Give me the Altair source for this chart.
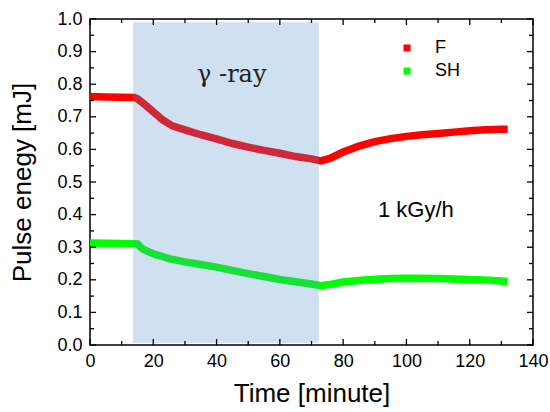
import altair as alt
import pandas as pd

# Pulse energy of fundamental (F) and second harmonic (SH) under gamma irradiation
time_f = [0, 5, 10, 14, 15, 17, 20, 23, 26, 30, 35, 40, 45, 50, 55, 60, 65, 70, 73,
          76, 80, 85, 90, 95, 100, 105, 110, 115, 120, 125, 130, 132]
energy_f = [0.762, 0.761, 0.760, 0.759, 0.755, 0.740, 0.715, 0.690, 0.672, 0.660, 0.645,
            0.632, 0.618, 0.607, 0.597, 0.588, 0.578, 0.571, 0.565,
            0.573, 0.592, 0.610, 0.624, 0.633, 0.640, 0.645, 0.649, 0.653, 0.657, 0.660,
            0.662, 0.662]

time_sh = [0, 5, 10, 15, 16, 17, 20, 25, 30, 35, 40, 45, 50, 55, 60, 65, 70, 73,
           76, 80, 85, 90, 95, 100, 110, 120, 126, 132]
energy_sh = [0.313, 0.312, 0.311, 0.310, 0.300, 0.292, 0.280, 0.265, 0.255, 0.247, 0.239,
             0.229, 0.219, 0.210, 0.201, 0.194, 0.187, 0.182,
             0.186, 0.193, 0.198, 0.202, 0.204, 0.205, 0.204, 0.201, 0.199, 0.195]

# irradiation window
ray_start, ray_end = 13.6, 72.3
ray_bottom, ray_top = 0.007, 0.99

x_major = [0, 20, 40, 60, 80, 100, 120, 140]
x_minor = [10, 30, 50, 70, 90, 110, 130]
y_major = [0.0, 0.1, 0.2, 0.3, 0.4, 0.5, 0.6, 0.7, 0.8, 0.9, 1.0]
y_minor = [0.05, 0.15, 0.25, 0.35, 0.45, 0.55, 0.65, 0.75, 0.85, 0.95]

series_names = ["F", "SH"]
series_colors = ["#ff0000", "#00ff00"]

W, H = 443, 326
FONT = "Liberation Sans"
X_TITLE = "Time [minute]"
Y_TITLE = "Pulse enegy [mJ]"

series = pd.concat([
    pd.DataFrame({"t": time_f, "e": energy_f, "s": "F"}),
    pd.DataFrame({"t": time_sh, "e": energy_sh, "s": "SH"}),
])

xs = alt.Scale(domain=[0, 140], nice=False, zero=False)
ys = alt.Scale(domain=[0, 1.0], nice=False, zero=False)
cs = alt.Scale(domain=series_names, range=series_colors)

# one shared axis definition per channel, used by every layer so they merge cleanly
x_axis = alt.Axis(values=x_major, format="d", ticks=False, domain=False, grid=False,
                  labelFlush=False, labelOverlap=False,
                  labelFontSize=18, labelPadding=7, labelFont=FONT, labelColor="black",
                  titleFontSize=26, titleFont=FONT, titleFontWeight="normal",
                  titleColor="black", titlePadding=10)
y_axis = alt.Axis(values=y_major, format=".1f", ticks=False, domain=False, grid=False,
                  labelFlush=False, labelOverlap=False,
                  labelFontSize=18, labelPadding=8, labelFont=FONT, labelColor="black",
                  titleFontSize=26, titleFont=FONT, titleFontWeight="normal",
                  titleColor="black", titlePadding=21)


def X(field):
    return alt.X(field, scale=xs, axis=x_axis, title=X_TITLE)


def Y(field):
    return alt.Y(field, scale=ys, axis=y_axis, title=Y_TITLE)


def xticks(vals, length):
    d = pd.DataFrame({"xt": vals})
    bottom = alt.Chart(d).mark_rule(color="black", strokeWidth=1.3).encode(
        x=X("xt:Q"), y=alt.value(H), y2=alt.value(H - length))
    top = alt.Chart(d).mark_rule(color="black", strokeWidth=1.3).encode(
        x=X("xt:Q"), y=alt.value(0), y2=alt.value(length))
    return [bottom, top]


def yticks(vals, length):
    d = pd.DataFrame({"yt": vals})
    left = alt.Chart(d).mark_rule(color="black", strokeWidth=1.3).encode(
        y=Y("yt:Q"), x=alt.value(0), x2=alt.value(length))
    right = alt.Chart(d).mark_rule(color="black", strokeWidth=1.3).encode(
        y=Y("yt:Q"), x=alt.value(W), x2=alt.value(W - length))
    return [left, right]


lines = alt.Chart(series).mark_line(strokeWidth=7.5, strokeCap="butt").encode(
    x=X("t:Q"),
    y=Y("e:Q"),
    color=alt.Color("s:N", scale=cs,
                    legend=alt.Legend(title=None, orient="none", legendX=308, legendY=20,
                                      symbolType="square", symbolSize=9, symbolStrokeWidth=4,
                                      symbolFillColor="transparent",
                                      labelFontSize=18, labelFont=FONT, labelColor="black",
                                      labelOffset=19, rowPadding=3)),
    detail="s:N",
)

shade = alt.Chart(pd.DataFrame({"a": [ray_start], "b": [ray_end],
                                "lo": [ray_bottom], "hi": [ray_top]})).mark_rect(
    color="rgb(84,144,205)", opacity=0.28
).encode(x=X("a:Q"), x2="b:Q", y=Y("lo:Q"), y2="hi:Q")

labels = alt.Chart(pd.DataFrame({"lt": [44.8], "le": [0.828], "txt": ["γ -ray"]})).mark_text(
    font="DejaVu Serif", fontSize=24, color="#222222"
).encode(x=X("lt:Q"), y=Y("le:Q"), text="txt:N")

dose = alt.Chart(pd.DataFrame({"lt": [103], "le": [0.414], "txt": ["1 kGy/h"]})).mark_text(
    font=FONT, fontSize=22, color="black"
).encode(x=X("lt:Q"), y=Y("le:Q"), text="txt:N")

layers = [lines, shade, labels, dose] + xticks(x_major, 6) + xticks(x_minor, 4) \
    + yticks(y_major, 6) + yticks(y_minor, 4)

chart = alt.layer(*layers).properties(
    width=W, height=H,
    autosize=alt.AutoSizeParams(type="none"),
    padding={"left": 90, "top": 19, "right": 17, "bottom": 67},
    background="white",
).configure_view(stroke="black", strokeWidth=1.5)

chart.save("out.html", embed_options={"renderer": "svg", "actions": False})
